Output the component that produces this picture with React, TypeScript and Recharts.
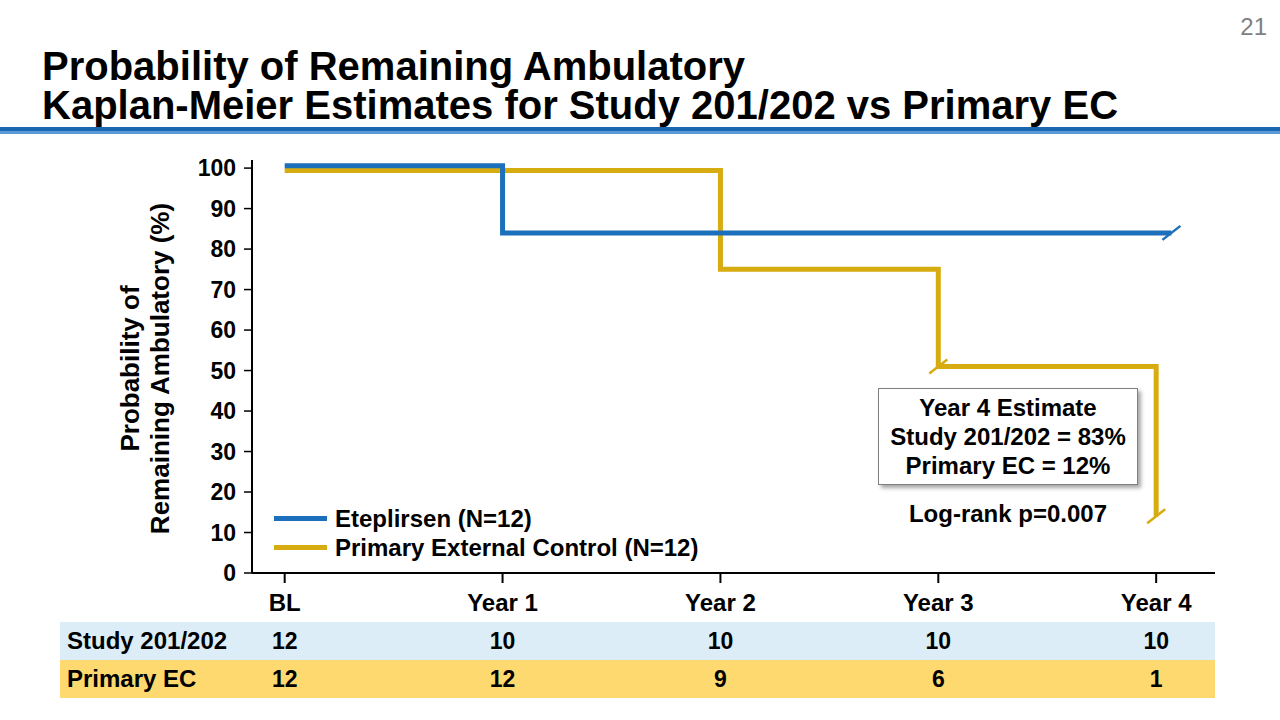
import React from 'react';
import { LineChart, Line, XAxis, YAxis } from 'recharts';

const FONT = '"Liberation Sans", Arial, sans-serif';
const BLUE = '#1c6fba';
const GOLD = '#d6ac10';

// time points (years) and labels
const YEARS = [0, 1, 2, 3, 4];
const YEAR_LABELS = ['BL', 'Year 1', 'Year 2', 'Year 3', 'Year 4'];
const Y_TICKS = [0, 10, 20, 30, 40, 50, 60, 70, 80, 90, 100];

// Kaplan-Meier curves
const ETEP_X = [0, 1, 4.07];
const ETEP_Y = [100.6, 84, 84];
const ETEP_CENSORED = [4.07];

const EC_X = [0, 2, 3, 4];
const EC_Y = [99.4, 75, 51, 14];
const EC_CENSORED = [3, 4];

// numbers at risk
const STUDY_AT_RISK = [12, 10, 10, 10, 10];
const EC_AT_RISK = [12, 12, 9, 6, 1];

const LEGEND = [
  { label: 'Eteplirsen (N=12)', color: BLUE },
  { label: 'Primary External Control (N=12)', color: GOLD },
];

const TITLE_LINES = [
  'Probability of Remaining Ambulatory',
  'Kaplan-Meier Estimates for Study 201/202 vs Primary EC',
];

const etepData = ETEP_X.map((x, i) => ({ x, y: ETEP_Y[i] }));
const ecData = EC_X.map((x, i) => ({ x, y: EC_Y[i] }));

function censorDot(censored: number[], color: string) {
  return (props: any) => {
    const { cx, cy, payload, index } = props;
    if (!censored.includes(payload.x)) return <g key={`d${index}`} />;
    return (
      <line
        key={`d${index}`}
        x1={cx - 9}
        y1={cy + 7}
        x2={cx + 9}
        y2={cy - 7}
        stroke={color}
        strokeWidth={2.5}
      />
    );
  };
}

function XTick({ x, y, payload }: any) {
  const i = YEARS.indexOf(payload.value);
  return (
    <g fontFamily={FONT} fontWeight="bold" fill="#000" textAnchor="middle">
      <text x={x} y={y + 17} fontSize={24} dominantBaseline="central">
        {YEAR_LABELS[i]}
      </text>
      <text x={x} y={y + 56} fontSize={23} dominantBaseline="central">
        {STUDY_AT_RISK[i]}
      </text>
      <text x={x} y={y + 94} fontSize={23} dominantBaseline="central">
        {EC_AT_RISK[i]}
      </text>
    </g>
  );
}

function YLabel({ viewBox }: any) {
  const cy = viewBox.y + viewBox.height / 2 + 2;
  const x1 = 130;
  const x2 = 160;
  return (
    <g fontFamily={FONT} fontWeight="bold" fontSize={26} fill="#000" textAnchor="middle">
      <text x={x1} y={cy} transform={`rotate(-90 ${x1} ${cy})`} dominantBaseline="central">
        Probability of
      </text>
      <text x={x2} y={cy} transform={`rotate(-90 ${x2} ${cy})`} dominantBaseline="central">
        Remaining Ambulatory (%)
      </text>
    </g>
  );
}

export default function App() {
  return (
    <div
      style={{
        position: 'absolute',
        left: 0,
        top: 0,
        width: 1280,
        height: 720,
        background: '#fff',
        fontFamily: FONT,
        overflow: 'hidden',
      }}
    >
      <div style={{ position: 'absolute', right: 13, top: 13, fontSize: 24, color: '#808080' }}>21</div>
      {TITLE_LINES.map((t, i) => (
        <div
          key={t}
          style={{
            position: 'absolute',
            left: 42,
            top: 47 + i * 39,
            height: 39,
            fontSize: 40,
            lineHeight: '39px',
            fontWeight: 'bold',
            color: '#000',
            whiteSpace: 'nowrap',
          }}
        >
          {t}
        </div>
      ))}
      <div style={{ position: 'absolute', left: 0, top: 127, width: 1280, height: 4, background: '#1a66b0' }} />
      <div style={{ position: 'absolute', left: 0, top: 131, width: 1280, height: 3, background: '#5b9bd5' }} />

      {/* at-risk table bands */}
      <div style={{ position: 'absolute', left: 60, top: 622, width: 1155, height: 38, background: '#dcedf7' }} />
      <div style={{ position: 'absolute', left: 60, top: 660, width: 1155, height: 38, background: '#fdd96f' }} />
      <div style={{ position: 'absolute', left: 67, top: 622, height: 38, lineHeight: '38px', fontSize: 24, fontWeight: 'bold' }}>
        Study 201/202
      </div>
      <div style={{ position: 'absolute', left: 67, top: 660, height: 38, lineHeight: '38px', fontSize: 24, fontWeight: 'bold' }}>
        Primary EC
      </div>

      <div style={{ position: 'absolute', left: 0, top: 0 }}>
        <LineChart width={1280} height={720} margin={{ top: 160, right: 65, bottom: 7, left: 192 }}>
          <XAxis
            type="number"
            dataKey="x"
            domain={[-0.15, 4.27]}
            ticks={YEARS}
            allowDataOverflow
            height={140}
            tickSize={10}
            axisLine={{ stroke: '#000', strokeWidth: 2 }}
            tickLine={{ stroke: '#000', strokeWidth: 2 }}
            tick={<XTick />}
          />
          <YAxis
            type="number"
            domain={[0, 102]}
            ticks={Y_TICKS}
            width={60}
            tickSize={8}
            tickMargin={8}
            axisLine={{ stroke: '#000', strokeWidth: 2 }}
            tickLine={{ stroke: '#000', strokeWidth: 1.5 }}
            tick={{ fill: '#000', fontSize: 23, fontWeight: 'bold', fontFamily: FONT }}
            label={<YLabel />}
          />
          <Line
            data={ecData}
            dataKey="y"
            type="stepAfter"
            stroke={GOLD}
            strokeWidth={5}
            dot={censorDot(EC_CENSORED, GOLD)}
            activeDot={false}
            isAnimationActive={false}
          />
          <Line
            data={etepData}
            dataKey="y"
            type="stepAfter"
            stroke={BLUE}
            strokeWidth={5}
            dot={censorDot(ETEP_CENSORED, BLUE)}
            activeDot={false}
            isAnimationActive={false}
          />
        </LineChart>
      </div>

      {/* legend */}
      <div style={{ position: 'absolute', left: 274, top: 504, fontSize: 24, fontWeight: 'bold' }}>
        {LEGEND.map((l) => (
          <div key={l.label} style={{ display: 'flex', alignItems: 'center', height: 29, whiteSpace: 'nowrap' }}>
            <div style={{ width: 53, height: 5, background: l.color, marginRight: 8 }} />
            <span>{l.label}</span>
          </div>
        ))}
      </div>

      <div
        style={{
          position: 'absolute',
          left: 878,
          top: 388,
          width: 260,
          height: 97,
          border: '1px solid #7f7f7f',
          background: '#fff',
          boxShadow: '3px 3px 4px rgba(0,0,0,0.35)',
          textAlign: 'center',
          fontSize: 24,
          fontWeight: 'bold',
          lineHeight: '29px',
          paddingTop: 4,
          boxSizing: 'border-box',
          whiteSpace: 'nowrap',
        }}
      >
        Year 4 Estimate
        <br />
        Study 201/202 = 83%
        <br />
        Primary EC = 12%
      </div>
      <div
        style={{
          position: 'absolute',
          left: 878,
          width: 260,
          top: 500,
          textAlign: 'center',
          fontSize: 24,
          fontWeight: 'bold',
          whiteSpace: 'nowrap',
        }}
      >
        Log-rank p=0.007
      </div>
    </div>
  );
}
